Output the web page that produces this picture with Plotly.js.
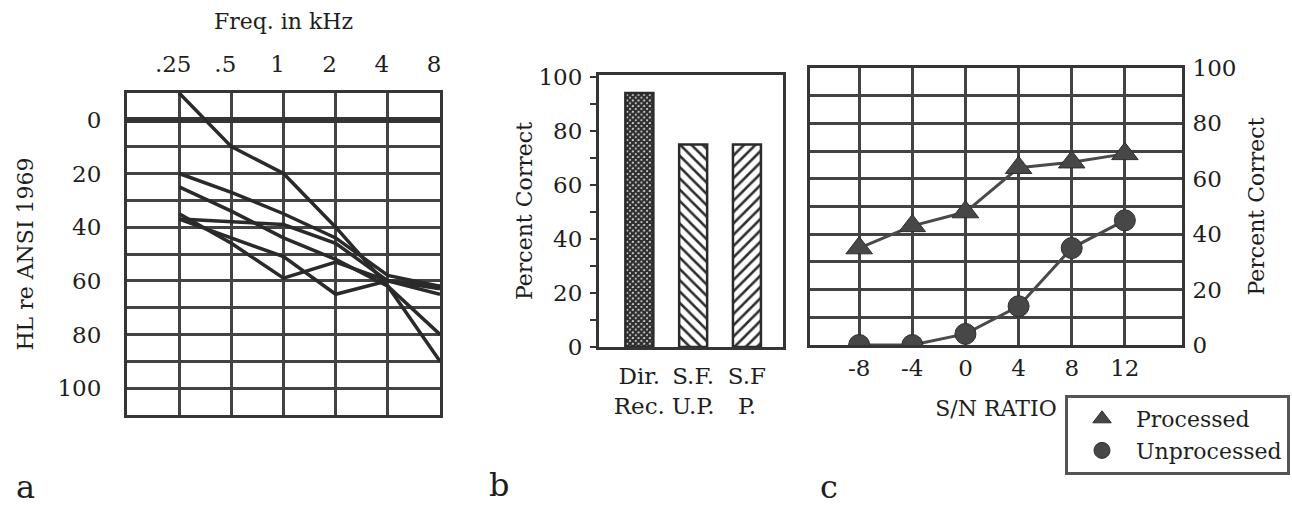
<!DOCTYPE html>
<html><head><meta charset="utf-8">
<script src="https://cdn.plot.ly/plotly-3.0.1.min.js"></script>
<style>html,body{margin:0;padding:0;background:#fff;overflow:hidden}#chart{width:1292px;height:505px;overflow:hidden}</style>
</head><body><div id="chart"></div>
<script>
// ---- Panel a: audiograms ----
const frequencies = [0.25, 0.5, 1, 2, 4, 8];
const freqLabels = ['.25', '.5', '1', '2', '4', '8'];
const audiogramA = [-10, 10, 20, 40, 62, 90];
const audiogramB = [20, 27, 35, 44, 58, 62];
const audiogramC = [25, 34, 44, 52, 62, 80];
const audiogramD = [37, 38, 39, 46, 60, 65];
const audiogramE = [35, 46, 59, 53, 60, 63];
const audiogramF = [37, 44, 51, 65, 60, 62];
const hlTickVals = [0, 10, 20, 30, 40, 50, 60, 70, 80, 90, 100];
const hlTickText = ['0', '', '20', '', '40', '', '60', '', '80', '', '100'];

// ---- Panel b: bars ----
const conditions = ['Dir.<br>Rec.', 'S.F.<br>U.P.', 'S.F<br>P.'];
const conditionScores = [94, 75, 75];

// ---- Panel c: S/N ratio ----
const snrRatios = [-8, -4, 0, 4, 8, 12];
const snrLabels = ['-8', '-4', '0', '4', '8', '12'];
const processedScores = [35, 43, 48, 64, 66, 69];
const unprocessedScores = [0, 0, 4, 14, 35, 45];
const pctTickVals = [0, 10, 20, 30, 40, 50, 60, 70, 80, 90, 100];
const pctTickText = ['0', '', '20', '', '40', '', '60', '', '80', '', '100'];

const INK = '#353535';
const GRID = '#434343';
const FONT = {family: 'DejaVu Serif', size: 22, color: '#1e1e1e'};
const TICKFONT = {family: 'DejaVu Serif', size: 23, color: '#1e1e1e'};
const W = 1292, H = 505;
const px = v => v / W;
const py = v => 1 - v / H;

const audiograms = [audiogramA, audiogramB, audiogramC, audiogramD, audiogramE, audiogramF];
const traces = audiograms.map(vals => ({
  type: 'scatter', mode: 'lines', x: frequencies, y: vals,
  xaxis: 'x', yaxis: 'y', showlegend: false, hoverinfo: 'skip',
  line: {color: '#2a2a2a', width: 3.5}
}));

traces.push({
  type: 'bar', x: conditions, y: conditionScores, xaxis: 'x2', yaxis: 'y2',
  width: 0.52, showlegend: false,
  marker: {
    color: '#ffffff',
    line: {color: '#2a2a2a', width: 2.5},
    pattern: {shape: ['x', '\\', '/'], size: [4, 8, 8], solidity: [0.85, 0.32, 0.32], fgcolor: '#2e2e2e'}
  }
});

const seriesC = [
  {name: 'Processed', y: processedScores, symbol: 'triangle-up', size: 23},
  {name: 'Unprocessed', y: unprocessedScores, symbol: 'circle', size: 21}
];
seriesC.forEach(s => traces.push({
  type: 'scatter', mode: 'lines', x: snrRatios, y: s.y, xaxis: 'x3', yaxis: 'y3',
  showlegend: false, line: {color: '#4a4a4a', width: 3}
}));
seriesC.forEach(s => traces.push({
  type: 'scatter', mode: 'markers', name: s.name, x: snrRatios, y: s.y, xaxis: 'x3', yaxis: 'y3',
  marker: {symbol: s.symbol, size: s.size, color: '#474747', line: {color: '#2e2e2e', width: 1}}
}));

const boxAxis = {showline: true, mirror: true, linecolor: INK, linewidth: 3, tickfont: TICKFONT, fixedrange: true};

const layout = {
  width: W, height: H,
  margin: {l: 0, r: 0, t: 0, b: 0},
  paper_bgcolor: '#fff', plot_bgcolor: '#fff',
  font: FONT,
  showlegend: true,
  legend: {
    x: px(1065), y: py(395), xanchor: 'left', yanchor: 'top',
    bordercolor: '#555', borderwidth: 3, bgcolor: '#fff',
    font: {family: 'DejaVu Serif', size: 22, color: '#1e1e1e'}, itemwidth: 58, tracegroupgap: 0
  },
  xaxis: Object.assign({}, boxAxis, {
    type: 'log', domain: [px(127), px(440)], anchor: 'y', side: 'top',
    range: [Math.log10(0.125), Math.log10(8)],
    tickvals: frequencies, ticktext: freqLabels, ticks: '',
    showgrid: true, gridcolor: GRID, gridwidth: 3, ticklabelstandoff: 9, ticklabelshift: -6,
    title: {text: 'Freq. in kHz', font: FONT, standoff: 16}
  }),
  yaxis: Object.assign({}, boxAxis, {
    domain: [py(415), py(93)], anchor: 'x', range: [110, -10],
    tickvals: hlTickVals, ticktext: hlTickText, ticks: '',
    showgrid: true, gridcolor: GRID, gridwidth: 3,
    zeroline: true, zerolinecolor: INK, zerolinewidth: 6,
    ticklabelstandoff: 18,
    title: {text: 'HL re ANSI 1969', font: FONT, standoff: 18}
  }),
  xaxis2: Object.assign({}, boxAxis, {
    type: 'category', domain: [px(599), px(783)], anchor: 'y2', range: [-0.75, 2.67],
    ticks: '', showgrid: false, zeroline: false, ticklabelstandoff: 6
  }),
  yaxis2: Object.assign({}, boxAxis, {
    domain: [py(347), py(75)], anchor: 'x2', range: [0, 100.7],
    tickvals: pctTickVals, ticktext: pctTickText,
    ticks: 'outside', ticklen: 6, tickwidth: 2, tickcolor: INK,
    showgrid: false, zeroline: false, ticklabelstandoff: 3,
    title: {text: 'Percent Correct', font: FONT, standoff: 0}
  }),
  yaxis4: {
    overlaying: 'y2', anchor: 'x2', side: 'left', range: [0, 100.7],
    tickvals: pctTickVals, ticks: 'inside', ticklen: 6, tickwidth: 2, tickcolor: INK,
    showticklabels: false, showline: false, showgrid: false, zeroline: false, fixedrange: true
  },
  xaxis3: Object.assign({}, boxAxis, {
    domain: [px(810), px(1182)], anchor: 'y3', range: [-11.7, 16.3],
    tickvals: snrRatios, ticktext: snrLabels, ticks: '', showgrid: true, gridcolor: GRID, gridwidth: 3,
    zeroline: false, ticklabelstandoff: 0,
    title: {text: 'S/N RATIO', font: FONT, standoff: 22}
  }),
  yaxis3: Object.assign({}, boxAxis, {
    domain: [py(345), py(68)], anchor: 'x3', side: 'right', range: [0, 100],
    tickvals: pctTickVals, ticktext: pctTickText, ticks: '',
    showgrid: true, gridcolor: GRID, gridwidth: 3, zeroline: false, ticklabelstandoff: 3,
    title: {text: 'Percent Correct', font: FONT, standoff: 14}
  }),
  annotations: [
    {text: 'a', x: px(14), y: py(487), xref: 'paper', yref: 'paper', xanchor: 'left', yanchor: 'middle', showarrow: false, font: {family: 'DejaVu Serif', size: 32, color: '#1e1e1e'}},
    {text: 'b', x: px(487), y: py(485), xref: 'paper', yref: 'paper', xanchor: 'left', yanchor: 'middle', showarrow: false, font: {family: 'DejaVu Serif', size: 32, color: '#1e1e1e'}},
    {text: 'c', x: px(818), y: py(487), xref: 'paper', yref: 'paper', xanchor: 'left', yanchor: 'middle', showarrow: false, font: {family: 'DejaVu Serif', size: 32, color: '#1e1e1e'}}
  ]
};

Plotly.newPlot('chart', traces, layout, {displayModeBar: false, staticPlot: true});
</script></body></html>
